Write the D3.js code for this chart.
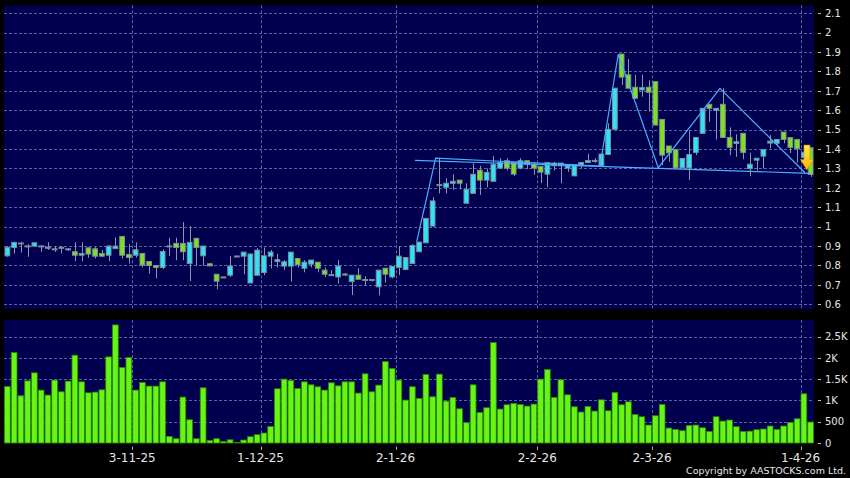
<!DOCTYPE html>
<html><head><meta charset="utf-8">
<script src="https://cdn.jsdelivr.net/npm/d3@7"></script>
<style>html,body{margin:0;padding:0;background:#000;}svg{display:block;}</style>
</head><body>
<script>
// ---- data ----
const open  = [.85,.893,.914,.90,.90,.90,.893,.885,.893,.885,.871,.853,.891,.886,.862,.853,.887,.95,.857,.853,.862,.821,.80,.79,.90,.914,.914,.81,.94,.85,
  .809,.755,.74,.75,.848,.848,.71,.75,.764,.848,.82,.797,.797,.836,.786,.807,.817,.776,.752,.741,.755,.717,.75,.727,.727,.69,.786,.741,.79,.779,
  .81,.871,.917,1.003,1.216,1.203,1.224,1.24,1.121,1.172,1.291,1.24,1.234,1.302,1.34,1.331,1.302,1.34,1.322,1.31,1.271,1.328,1.314,1.302,1.262,1.319,1.331,1.341,1.314,1.372,
  1.502,1.89,1.783,1.719,1.705,1.719,1.748,1.553,1.416,1.398,1.303,1.303,1.383,1.481,1.631,1.60,1.631,1.46,1.429,1.481,1.30,1.343,1.364,1.431,1.43,1.488,1.459,1.45,1.357,1.407];
const high  = [.90,.922,.922,.91,.92,.902,.92,.90,.90,.89,.92,.92,.895,.895,.88,.905,.945,.95,.91,.919,.865,.821,.80,.883,.943,.943,1.024,1.003,.94,.90,
  .812,.755,.742,.85,.85,.869,.862,.89,.893,.88,.86,.828,.869,.836,.828,.828,.817,.79,.776,.828,.762,.75,.786,.745,.727,.776,.786,.795,.90,.841,
  .91,.921,1.043,1.152,1.353,1.25,1.27,1.24,1.224,1.327,1.314,1.30,1.365,1.353,1.353,1.331,1.353,1.34,1.334,1.31,1.331,1.334,1.328,1.319,1.319,1.331,1.376,1.353,1.379,1.533,
  1.714,1.89,1.864,1.783,1.783,1.755,1.748,1.553,1.416,1.398,1.352,1.493,1.46,1.61,1.631,1.61,1.714,1.512,1.476,1.481,1.381,1.353,1.398,1.472,1.45,1.488,1.459,1.45,1.40,1.407];
const low   = [.845,.862,.866,.845,.90,.87,.88,.87,.862,.875,.822,.822,.84,.836,.845,.822,.887,.836,.81,.841,.79,.759,.733,.781,.848,.827,.827,.72,.80,.798,
  .798,.678,.738,.741,.846,.755,.71,.75,.75,.785,.79,.778,.717,.79,.765,.79,.765,.74,.748,.707,.745,.648,.729,.697,.717,.646,.712,.734,.75,.779,
  .81,.871,.917,1.003,1.172,1.172,1.19,1.193,1.121,1.172,1.164,1.203,1.234,1.302,1.29,1.262,1.297,1.297,1.267,1.224,1.203,1.29,1.224,1.283,1.262,1.302,1.331,1.328,1.314,1.372,
  1.502,1.731,1.714,1.662,1.67,1.593,1.524,1.317,1.334,1.303,1.303,1.24,1.369,1.481,1.541,1.45,1.46,1.369,1.36,1.348,1.26,1.29,1.30,1.403,1.417,1.43,1.38,1.33,1.33,1.257];
const close = [.893,.919,.916,.901,.917,.901,.894,.886,.894,.886,.853,.862,.859,.848,.848,.90,.90,.853,.841,.881,.802,.80,.79,.872,.901,.893,.871,.919,.893,.90,
  .798,.719,.741,.797,.849,.869,.859,.879,.85,.869,.83,.819,.869,.805,.817,.828,.786,.755,.753,.797,.756,.75,.729,.728,.728,.776,.755,.795,.848,.841,
  .903,.921,1.043,1.133,1.217,1.224,1.234,1.224,1.193,1.27,1.24,1.28,1.322,1.331,1.302,1.271,1.34,1.322,1.302,1.281,1.331,1.314,1.328,1.319,1.319,1.331,1.341,1.342,1.374,1.502,
  1.714,1.771,1.714,1.662,1.717,1.693,1.524,1.369,1.381,1.303,1.352,1.372,1.46,1.61,1.61,1.61,1.46,1.409,1.438,1.383,1.322,1.353,1.398,1.441,1.45,1.45,1.409,1.403,1.383,1.269];
const volume = [1328,2126,1110,1462,1650,1244,1127,1479,1204,1455,2065,1439,1181,1197,1251,2025,2777,1775,2009,1244,
  1423,1338,1338,1439,155,101,1080,547,101,1298,61,101,38,76,10,70,148,195,235,390,
  1275,1502,1470,1282,1439,1369,1322,1244,1416,1345,1439,1439,1174,1627,1204,1361,1915,1751,1479,1009,
  1322,1047,1610,1087,1619,986,1070,805,476,1369,718,829,2361,798,899,929,906,868,915,1502,
  1727,1070,1486,1134,852,728,859,751,1016,758,1188,899,969,671,617,422,641,906,352,319,
  289,413,422,359,272,617,516,540,383,272,279,312,329,399,319,399,484,570,1157,493];
const dateLabels = ["3-11-25","1-12-25","2-1-26","2-2-26","2-3-26","1-4-26"];
const dateIndex  = [19,38,58,79,96,118];
const priceTicks = [0.6,0.7,0.8,0.9,1,1.1,1.2,1.3,1.4,1.5,1.6,1.7,1.8,1.9,2,2.1];
const volTicks = [0,500,1000,1500,2000,2500];
const volTickLabels = ["0","500","1K","1.5K","2K","2.5K"];
// chart pattern annotations: [bar index (fractional), price]
const neckline = [[60.39,1.342],[118.91,1.275]];
const zigzag = [[60.64,0.923],[63.45,1.353],[87.8,1.313],[90.5,1.889],[96.43,1.304],[105.57,1.713],[118.17,1.278]];
const arrowMark = {index:118.45, top:1.421, tip:1.292};

// ---- layout ----
const W=850,H=478;
const L=4,R=814, pTop=5.3, pBot=309, vTop=320, vBot=443;
const navy="#00004f", grid="#6874b4";
const svg=d3.select("body").append("svg").attr("width",W).attr("height",H).style("background","#000");
const n=close.length;
const x=d3.scaleBand().domain(d3.range(n)).range([L,R]).paddingInner(0.15).paddingOuter(0.075);
const step=x.step(), bw=x.bandwidth();
const xc=i=>x(0)+bw/2+i*step;         // centre for (fractional) index
const xg=i=>x(i)-step*0.075;           // grid boundary at bar start
const y=d3.scaleLinear().domain([0.6,2.1]).range([304.3,13.3]);
const yv=d3.scaleLinear().domain([0,2500]).range([443,336.7]);

// panels
svg.append("rect").attr("x",L).attr("y",pTop).attr("width",R-L).attr("height",pBot-pTop).attr("fill",navy);
svg.append("rect").attr("x",L).attr("y",vTop).attr("width",R-L).attr("height",vBot-vTop).attr("fill",navy);

// gridlines
const g=svg.append("g").attr("stroke",grid).attr("stroke-width",1).attr("stroke-dasharray","3,2").attr("opacity",0.85);
g.selectAll(".hp").data(priceTicks).join("line").attr("x1",L).attr("x2",R).attr("y1",d=>Math.round(y(d))+0.5).attr("y2",d=>Math.round(y(d))+0.5);
g.selectAll(".hv").data(volTicks.slice(1)).join("line").attr("x1",L).attr("x2",R).attr("y1",d=>Math.round(yv(d))+0.5).attr("y2",d=>Math.round(yv(d))+0.5);
g.selectAll(".vp").data(dateIndex).join("line").attr("x1",d=>Math.round(xg(d))+0.5).attr("x2",d=>Math.round(xg(d))+0.5).attr("y1",pTop).attr("y2",pBot);
g.selectAll(".vv").data(dateIndex).join("line").attr("x1",d=>Math.round(xg(d))+0.5).attr("x2",d=>Math.round(xg(d))+0.5).attr("y1",vTop).attr("y2",vBot);

// volume bars
svg.append("g").selectAll("rect").data(volume).join("rect")
  .attr("x",(d,i)=>x(i)).attr("width",bw).attr("y",d=>yv(d)).attr("height",d=>Math.max(0,yv(0)-yv(d)))
  .attr("fill","#66f514").attr("stroke","#2e8a00").attr("stroke-width",0.8);

// candles
const cg=svg.append("g");
const idx=d3.range(n);
cg.selectAll(".w").data(idx).join("line")
  .attr("x1",i=>Math.round(xc(i))+0.5).attr("x2",i=>Math.round(xc(i))+0.5)
  .attr("y1",i=>y(high[i])).attr("y2",i=>y(low[i])).attr("stroke","#8a97a8").attr("stroke-width",1);
cg.selectAll(".b").data(idx).join("rect")
  .attr("x",i=>x(i)+0.5).attr("width",bw-1)
  .attr("y",i=>y(Math.max(open[i],close[i])))
  .attr("height",i=>Math.max(1,Math.abs(y(open[i])-y(close[i]))))
  .attr("fill",i=>close[i]>=open[i]?"#2ee3f6":"#7ce21e")
  .attr("stroke","#7f8c9c").attr("stroke-width",1);

// pattern lines
const ln=d3.line().x(d=>xc(d[0])).y(d=>y(d[1]));
svg.append("path").attr("d",ln(neckline)).attr("fill","none").attr("stroke","#4aaeff").attr("stroke-width",1.2);
svg.append("path").attr("d",ln(zigzag)).attr("fill","none").attr("stroke","#4aaeff").attr("stroke-width",1.2);

// arrow
const defs=svg.append("defs");
const gr=defs.append("linearGradient").attr("id","ag").attr("x1",0).attr("y1",0).attr("x2",0).attr("y2",1);
gr.append("stop").attr("offset","0%").attr("stop-color","#ffe94a");
gr.append("stop").attr("offset","100%").attr("stop-color","#ffb400");
const ax=xc(arrowMark.index), at=y(arrowMark.top), ap=y(arrowMark.tip);
const hh=(ap-at)*0.42;
svg.append("path").attr("fill","url(#ag)").attr("stroke","#c88a00").attr("stroke-width",0.5)
  .attr("d",`M${ax-3},${at}L${ax+3},${at}L${ax+3},${ap-hh}L${ax+6.5},${ap-hh}L${ax},${ap}L${ax-6.5},${ap-hh}L${ax-3},${ap-hh}Z`);

// right axes
const font="DejaVu Sans";
const ra=svg.append("g");
ra.selectAll(".pt").data(priceTicks).join("line").attr("x1",818).attr("x2",821).attr("y1",d=>Math.round(y(d))+0.5).attr("y2",d=>Math.round(y(d))+0.5).attr("stroke","#bbb");
ra.selectAll(".pl").data(priceTicks).join("text").attr("x",825).attr("y",d=>y(d)+3.6)
  .attr("fill","#e6e6e6").attr("font-family",font).attr("font-size",10).text(d=>d3.format("~g")(d));
ra.selectAll(".vt").data(volTicks).join("line").attr("x1",818).attr("x2",821).attr("y1",d=>Math.round(yv(d))+0.5).attr("y2",d=>Math.round(yv(d))+0.5).attr("stroke","#bbb");
ra.selectAll(".vl").data(volTicks).join("text").attr("x",825).attr("y",d=>yv(d)+3.6)
  .attr("fill","#e6e6e6").attr("font-family",font).attr("font-size",10).text((d,i)=>volTickLabels[i]);

// date axis
const da=svg.append("g");
da.selectAll("line").data(dateIndex).join("line").attr("x1",d=>Math.round(xg(d))+0.5).attr("x2",d=>Math.round(xg(d))+0.5).attr("y1",446.5).attr("y2",450).attr("stroke","#aaa");
da.selectAll("text").data(dateIndex).join("text").attr("x",d=>xg(d)).attr("y",461.5).attr("text-anchor","middle")
  .attr("fill","#e6e6e6").attr("font-family",font).attr("font-size",12).text((d,i)=>dateLabels[i]);

svg.append("text").attr("x",846).attr("y",474).attr("text-anchor","end").attr("fill","#e6e6e6")
  .attr("font-family",font).attr("font-size",9.5)
  .text("Copyright by AASTOCKS.com Ltd.");
</script>
</body></html>
